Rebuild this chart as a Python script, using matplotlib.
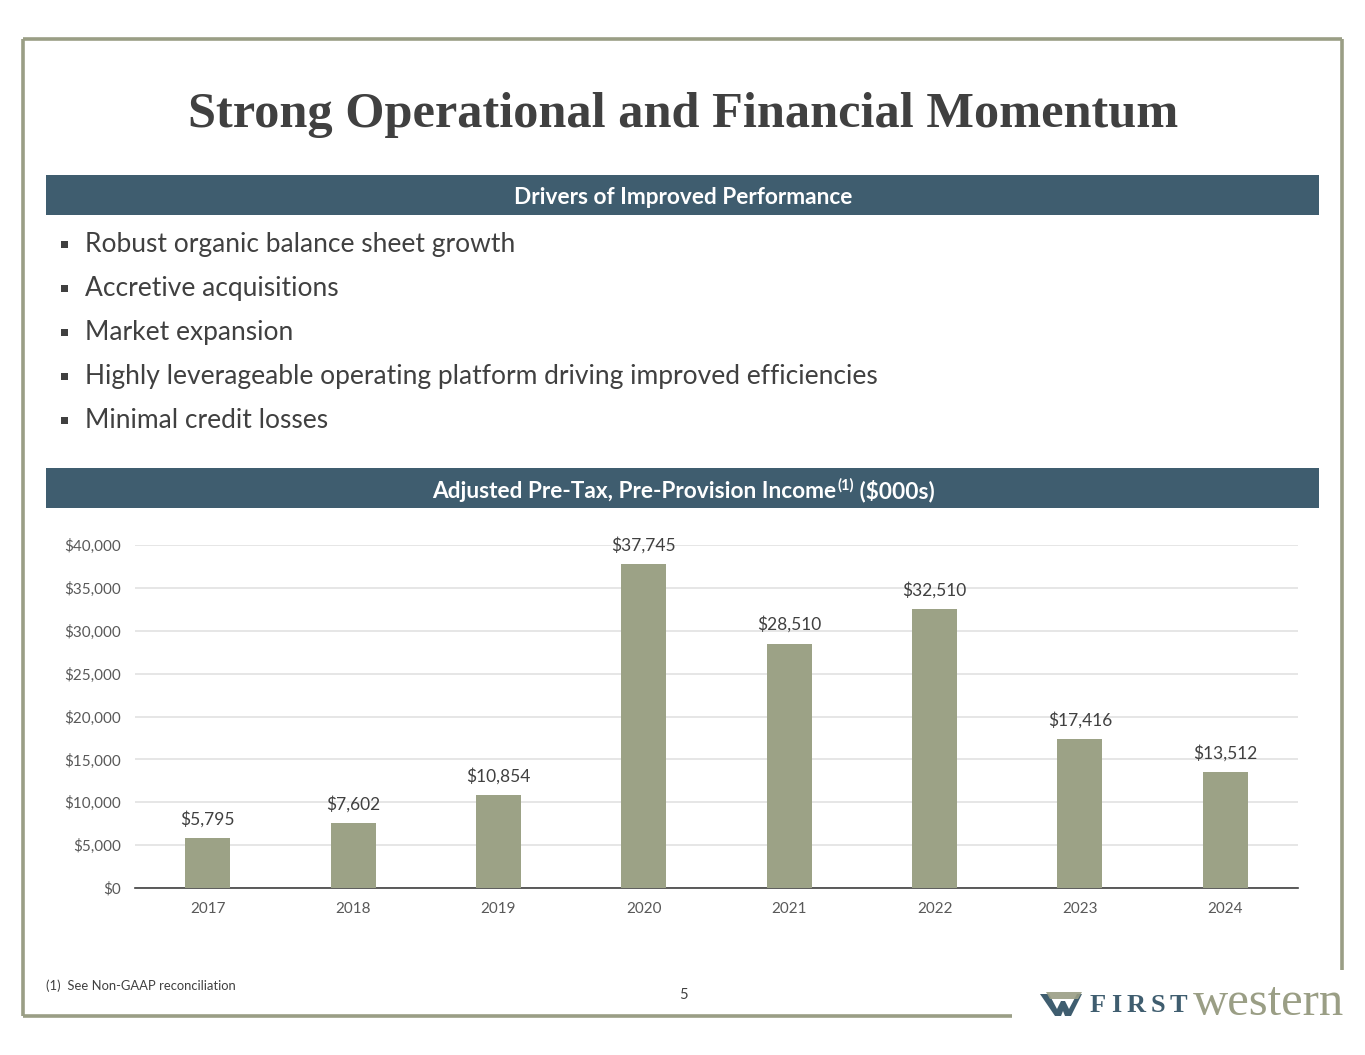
import matplotlib
matplotlib.use("Agg")
import matplotlib.pyplot as plt
from matplotlib.patches import Rectangle, Polygon
from matplotlib.ticker import FuncFormatter

# ---- data ----
years = ["2017", "2018", "2019", "2020", "2021", "2022", "2023", "2024"]
income = [5795, 7602, 10854, 37745, 28510, 32510, 17416, 13512]
y_ticks = [0, 5000, 10000, 15000, 20000, 25000, 30000, 35000, 40000]
bullets = [
    "Robust organic balance sheet growth",
    "Accretive acquisitions",
    "Market expansion",
    "Highly leverageable operating platform driving improved efficiencies",
    "Minimal credit losses",
]
title = "Strong Operational and Financial Momentum"
header1 = "Drivers of Improved Performance"
header2_main = "Adjusted Pre-Tax, Pre-Provision Income"
header2_sup = "(1)"
header2_tail = " ($000s)"
footnote = "(1)  See Non-GAAP reconciliation"
page_no = "5"
logo_first = "FIRST"
logo_western = "western"

W, H = 1365, 1055
OLIVE = "#9a9e85"
BAR = "#9ca286"
TEAL = "#3f5d6f"
DARK = "#404040"
GREY = "#595959"
SANS = ["Lato", "DejaVu Sans"]
SERIF = ["Liberation Serif", "DejaVu Serif"]

fig = plt.figure(figsize=(W / 100, H / 100), dpi=100)
fig.patch.set_facecolor("white")

# overlay axes in pixel coordinates
ov = fig.add_axes([0, 0, 1, 1])
ov.set_xlim(0, W)
ov.set_ylim(H, 0)
ov.axis("off")
ov.set_zorder(0)

# frame
ov.plot([23, 1342], [39, 39], color=OLIVE, lw=2.6, solid_capstyle="butt")
ov.plot([23, 23], [39, 1016], color=OLIVE, lw=2.6, solid_capstyle="butt")
ov.plot([23, 1012], [1016, 1016], color=OLIVE, lw=2.6, solid_capstyle="butt")
ov.plot([1342, 1342], [39, 970], color=OLIVE, lw=2.6, solid_capstyle="butt")

# title
ov.text(683, 115, title, ha="center", va="center", fontsize=36.3,
        fontweight="bold", family=SERIF, color=DARK)

# header bars
ov.add_patch(Rectangle((46, 175), 1273, 40, facecolor=TEAL, edgecolor="none"))
ov.add_patch(Rectangle((46, 468), 1273, 40, facecolor=TEAL, edgecolor="none"))
ov.text(683, 197.5, header1, ha="center", va="center", fontsize=16.3,
        fontweight="bold", family=SANS, color="white")

# header 2 with superscript: measure pieces
fig.canvas.draw()
r = fig.canvas.get_renderer()
t1 = ov.text(0, 491.5, header2_main, ha="left", va="center", fontsize=16.3,
             fontweight="bold", family=SANS, color="white")
t2 = ov.text(0, 485.5, header2_sup, ha="left", va="center", fontsize=10.5,
             fontweight="bold", family=SANS, color="white")
t3 = ov.text(0, 491.5, header2_tail, ha="left", va="center", fontsize=16.3,
             fontweight="bold", family=SANS, color="white")
w1 = t1.get_window_extent(r).width
w2 = t2.get_window_extent(r).width
w3 = t3.get_window_extent(r).width
total = w1 + w2 + w3
x0 = 683 - total / 2
t1.set_x(x0)
t2.set_x(x0 + w1 + 1)
t3.set_x(x0 + w1 + w2 + 1)

# bullets
for i, b in enumerate(bullets):
    y = 244.5 + i * 44
    ov.add_patch(Rectangle((61, y - 3.5), 7, 7, facecolor="#404040", edgecolor="none"))
    ov.text(85, y, b, ha="left", va="center", fontsize=19, family=SANS, color=DARK)

# footnote & page
ov.text(46, 986, footnote, ha="left", va="center", fontsize=9.4, family=SANS, color=DARK)
ov.text(683, 995, page_no, ha="center", va="center", fontsize=10.5, family=SANS, color=DARK)

# logo icon
ov.add_patch(Polygon([[1040, 994], [1049, 994], [1057, 1009], [1061, 1001], [1065, 1001],
                      [1069, 1009], [1077, 994], [1082, 994], [1071, 1016], [1065, 1016],
                      [1063, 1011], [1061, 1016], [1055, 1016]],
                     closed=True, facecolor=TEAL, edgecolor="none"))
ov.add_patch(Polygon([[1046, 992], [1082, 992], [1078, 999], [1050, 999]],
                     closed=True, facecolor=OLIVE, edgecolor="none", alpha=0.9))
# logo text: FIRST with wide tracking
xx = 1090
for ch in logo_first:
    t = ov.text(xx, 1006, ch, ha="left", va="center", fontsize=19, fontweight="bold",
                family=SERIF, color=TEAL)
    xx += t.get_window_extent(r).width + 5
ov.text(1193, 1003, logo_western, ha="left", va="center", fontsize=35,
        family=SERIF, color=OLIVE)

# ---- chart ----
ax = fig.add_axes([135 / W, 1 - 888 / H, (1298 - 135) / W, (888 - 545) / H])
ax.set_zorder(1)
ax.patch.set_alpha(0)
x = list(range(len(years)))
ax.bar(x, income, width=0.31, color=BAR, zorder=3)
ax.set_xlim(-0.5, len(years) - 0.5)
ax.set_ylim(0, 40000)
ax.set_yticks(y_ticks)
ax.yaxis.set_major_formatter(FuncFormatter(lambda v, p: f"${v:,.0f}"))
ax.set_xticks(x)
ax.set_xticklabels(years)
ax.grid(axis="y", color="#e2e2e2", lw=1.2, zorder=0)
for s in ["top", "right", "left"]:
    ax.spines[s].set_visible(False)
ax.spines["bottom"].set_color("#404040")
ax.spines["bottom"].set_linewidth(1.2)
ax.tick_params(axis="both", length=0, labelsize=11, labelcolor=GREY)
ax.tick_params(axis="y", pad=10)
ax.tick_params(axis="x", pad=10)
for lab in ax.get_xticklabels() + ax.get_yticklabels():
    lab.set_family(SANS)
for xi, v in zip(x, income):
    ax.annotate(f"${v:,}", (xi, v), xytext=(0, 7.5), textcoords="offset points",
                ha="center", va="bottom", fontsize=12.5, family=SANS, color=DARK, zorder=4)

fig.savefig("out.png", dpi=100, facecolor="white")
